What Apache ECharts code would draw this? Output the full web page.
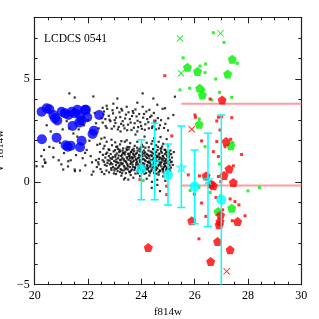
<!DOCTYPE html>
<html><head><meta charset="utf-8">
<script src="https://cdn.jsdelivr.net/npm/echarts@6/dist/echarts.min.js"></script>
<style>html,body{margin:0;padding:0;background:#fff}#c{width:319px;height:319px}</style>
</head><body><div id="c"></div>
<script>
const xTicks = [20, 22, 24, 26, 28, 30];
const yTicks = [-5, 0, 5];
const titleText = 'LCDCS 0541';
const xName = 'f814w';
const yName = 'V\u2212f814w';

const blackStars = [
[21.3,4.3],[21.5,4.1],[22.2,4.15],[23.1,4.05],[24.05,4.3],[24.45,4.05],[22.7,3.7],[23.45,3.65],[24.05,3.65],[23.85,3.85],[24.6,3.75],[22.95,3.8],[21.05,3.5],[23.7,3.35],[24.3,3.5],[22.55,3.6],[24.8,3.55],[23.25,3.55],
[20.45,2.75],[20.6,2.45],[20.35,1.55],[20.55,1.7],[20.7,1.2],[20.4,0.95],[20.9,1.05],[21.0,0.85],[21.1,1.4],[21.05,2.55],[21.2,2.95],[21.45,2.35],[21.55,1.3],[21.5,0.6],[21.8,1.15],[21.9,0.8],[21.95,1.55],[22.05,2.0],[22.1,1.25],[22.15,0.95],[22.3,2.85],[22.35,1.8],[22.4,0.85],[22.45,1.45],[22.5,2.1],[22.5,3.1],[20.8,2.9],[21.3,2.6],[21.65,2.55],[21.85,2.75],[22.0,3.0],[22.25,3.35],[22.4,2.6],[20.25,1.25],[20.3,0.75],[21.35,1.05],[21.7,0.55],[22.2,0.5],[21.25,0.75],[20.95,1.9],[21.6,2.2],[22.3,1.05],
[20.36,1.08],[20.39,0.92],[20.07,0.76],[20.7,1.65],[21.07,0.6],[21.51,0.52],[21.26,1.0],[21.89,1.41],[22.14,0.35],
[22.6,3.42],[22.78,3.21],[22.92,3.48],[23.05,3.12],[23.18,3.38],[23.3,2.95],[23.42,3.27],[23.57,3.05],[23.68,3.44],[23.82,3.18],[23.96,2.9],[24.1,3.3],[24.22,3.05],[24.38,3.22],[24.5,2.85],[24.62,3.1],[22.55,2.88],[22.7,2.62],[22.84,2.95],[22.98,2.7],[23.12,2.55],[23.24,2.82],[23.37,2.6],[23.5,2.78],[23.63,2.52],[23.75,2.85],[23.88,2.66],[24.02,2.58],[24.15,2.8],[24.28,2.6],[24.42,2.7],[24.55,2.55],[24.7,2.75],[24.85,2.62],[23.0,3.0],[22.65,3.05],
[22.58,3.28],[22.66,2.71],[22.72,3.55],[22.81,3.02],[22.89,2.58],[22.94,3.33],[23.03,2.86],[23.09,3.6],[23.15,2.67],[23.21,3.15],[23.28,3.47],[23.33,2.74],[23.39,3.08],[23.47,2.51],[23.52,3.38],[23.6,2.88],[23.65,3.2],[23.72,2.63],[23.78,3.52],[23.86,2.97],[23.92,3.3],[23.99,2.72],[24.07,3.12],[24.13,2.53],[24.19,3.42],[24.26,2.9],[24.33,3.15],[24.4,2.62],[24.47,3.35],[24.53,2.97],[24.66,2.6],[24.74,3.0],[24.9,2.82],[25.0,2.5],
[22.62,2.15],[22.88,2.05],[23.22,2.45],[23.45,2.02],[23.78,2.3],[24.12,2.2],[24.48,2.12],[24.72,2.18],[24.95,2.08],[23.85,2.45],
[22.45,1.85],[22.58,1.62],[22.7,1.95],[22.8,1.55],[22.9,1.78],[23.02,1.92],[23.12,1.6],[23.2,1.82],[23.3,1.52],[23.38,1.95],[23.48,1.7],[23.58,1.88],[23.66,1.55],[23.75,1.75],[23.85,1.95],[23.93,1.6],[24.02,1.8],[24.1,1.52],[24.2,1.9],[24.28,1.68],[24.38,1.85],[24.46,1.58],[24.55,1.78],[24.65,1.95],[24.72,1.62],[24.82,1.85],[24.9,1.55],[25.0,1.75],[23.06,1.7],[23.52,1.58],[23.98,1.68],[24.42,1.98],[24.78,1.72],[23.25,1.98],[22.62,1.75],
[22.72,1.42],[22.85,1.35],[22.96,1.48],[23.08,1.38],[23.17,1.45],[23.28,1.32],[23.4,1.46],[23.5,1.36],[23.61,1.44],[23.72,1.3],[23.83,1.41],[23.94,1.48],[24.03,1.34],[24.14,1.43],[24.24,1.31],[24.35,1.47],[24.45,1.37],[24.56,1.45],[24.66,1.33],[24.77,1.42],[24.88,1.36],[24.98,1.46],
[22.65,1.18],[22.78,1.25],[22.9,1.12],[23.02,1.22],[23.13,1.15],[23.24,1.26],[23.34,1.1],[23.45,1.2],[23.56,1.27],[23.66,1.13],[23.77,1.23],[23.88,1.16],[23.98,1.27],[24.08,1.11],[24.19,1.21],[24.3,1.14],[24.4,1.25],[24.5,1.12],[24.61,1.22],[24.71,1.15],[24.82,1.26],[24.92,1.1],[25.03,1.2],
[22.6,0.98],[22.74,1.05],[22.86,0.92],[22.98,1.02],[23.09,0.95],[23.2,1.06],[23.3,0.9],[23.41,1.0],[23.52,1.07],[23.62,0.93],[23.73,1.03],[23.84,0.96],[23.94,1.06],[24.05,0.91],[24.16,1.01],[24.26,0.94],[24.37,1.05],[24.47,0.92],[24.58,1.02],[24.68,0.95],[24.79,1.06],[24.89,0.9],[25.0,1.0],
[22.7,0.78],[22.82,0.85],[22.94,0.72],[23.05,0.82],[23.16,0.75],[23.27,0.86],[23.37,0.7],[23.48,0.8],[23.59,0.87],[23.69,0.73],[23.8,0.83],[23.9,0.76],[24.01,0.86],[24.12,0.71],[24.22,0.81],[24.33,0.74],[24.43,0.85],[24.54,0.72],[24.64,0.82],[24.75,0.75],[24.85,0.86],[24.96,0.7],[25.06,0.8],
[22.88,0.58],[23.0,0.65],[23.11,0.52],[23.22,0.62],[23.33,0.55],[23.44,0.66],[23.54,0.5],[23.65,0.6],[23.76,0.67],[23.86,0.53],[23.97,0.63],[24.08,0.56],[24.18,0.66],[24.29,0.51],[24.39,0.61],[24.5,0.54],[24.6,0.65],[24.71,0.52],[24.81,0.62],[24.92,0.55],[25.02,0.64],
[23.05,0.38],[23.25,0.3],[23.42,0.42],[23.6,0.33],[23.78,0.4],[23.95,0.28],[24.12,0.39],[24.3,0.31],[24.48,0.43],[24.65,0.35],[24.82,0.27],[24.98,0.4],[23.7,0.2],[24.2,0.15],[24.6,0.1],[24.9,0.05],[23.35,0.12],[24.4,0.0],
[23.03,1.3],[23.25,1.08],[23.47,0.88],[23.69,1.37],[23.91,0.68],[24.13,1.28],[24.35,0.83],[24.57,1.18],[24.79,0.63],[24.95,1.32],[23.14,0.92],[23.36,1.4],[23.58,0.72],[23.8,1.1],[24.02,1.45],[24.24,0.6],[24.46,1.03],[24.68,1.38],[24.9,0.78],[23.58,1.15],[24.25,0.97],[24.73,0.9],[23.88,0.85],[24.55,0.58],[23.2,0.48],[24.85,1.15],[25.1,0.95],[25.12,1.35],[25.08,0.55],
[22.33,0.72],[22.41,1.12],[22.52,0.48],[22.56,1.31],[22.63,0.83],[22.69,0.55],[22.77,1.58],[22.81,1.03],[22.87,0.67],[22.93,1.21],[22.97,0.41],[23.01,1.54],[23.04,0.97],[23.07,0.63],[23.1,1.72],[23.15,1.28],[23.19,0.81],[23.21,1.49],[23.26,0.57],[23.29,1.17],[23.32,1.63],[23.35,0.78],[23.38,1.33],[23.43,0.95],[23.46,1.55],[23.49,0.61],[23.53,1.24],[23.55,1.69],[23.57,0.46],[23.6,1.02],[23.63,1.47],[23.67,0.84],[23.7,1.18],[23.71,1.61],[23.74,0.57],[23.79,1.36],[23.81,0.91],[23.86,1.52],[23.89,0.64],[23.92,1.19],[23.96,0.79],[23.99,1.57],[24.04,1.09],[24.06,0.47],[24.09,1.39],[24.11,0.88],[24.15,1.66],[24.17,0.62],[24.21,1.16],[24.23,0.77],[24.27,1.52],[24.31,1.01],[24.33,0.45],[24.36,1.29],[24.41,0.73],[24.44,1.6],[24.47,1.16],[24.49,0.68],[24.52,1.42],[24.53,0.89],[24.57,0.4],[24.59,1.27],[24.62,1.7],[24.63,0.78],[24.67,1.08],[24.69,0.56],[24.74,1.49],[24.76,0.97],[24.8,1.24],[24.83,0.46],[24.84,0.71],[24.87,1.56],[24.91,1.02],[24.94,0.63],[24.97,1.24],[25.01,0.87],[25.04,1.41],[25.07,1.07],[25.11,0.69],[25.15,1.18],[25.18,0.82],[25.22,1.45],
[22.38,0.95],[22.47,0.62],[22.55,1.05],[22.61,0.38],[22.67,1.36],[22.73,0.92],[22.79,0.46],[22.84,1.15],[22.91,0.86],[22.99,0.55],[23.06,1.09],[23.12,0.69],[23.18,1.56],[23.23,0.93],[23.28,0.42],[23.31,1.41],[23.36,1.03],[23.4,0.61],[23.44,1.62],[23.47,1.14],[23.51,0.75],[23.56,1.37],[23.61,0.54],[23.64,1.21],[23.68,0.98],[23.73,1.49],[23.77,0.71],[23.82,1.07],[23.84,1.66],[23.87,0.42],[23.91,1.31],[23.95,0.97],[24.0,0.58],[24.04,1.24],[24.07,1.71],[24.1,0.79],[24.14,1.05],[24.18,0.43],[24.2,1.36],[24.26,0.67],[24.29,1.26],[24.32,0.92],[24.37,0.53],[24.4,1.43],[24.43,1.08],[24.48,0.79],[24.51,1.3],[24.54,1.04],[24.58,0.69],[24.61,1.55],[24.65,0.47],[24.68,1.2],[24.7,0.84],[24.75,1.62],[24.78,1.13],[24.81,0.56],[24.86,1.0],[24.88,0.75],[24.93,1.44],[24.96,0.92],[25.0,0.6],[25.05,1.3],[25.09,1.52],[25.14,0.98],
[23.39,0.19],[23.51,0.11],[24.7,-0.45],[24.39,-0.29],[24.6,-0.15],[24.89,3.58],[25.26,4.14],[25.01,3.09],[25.2,3.25]
];

const blueDots = [
[20.26,3.41],[20.45,3.58],[20.55,3.53],[20.7,3.25],[20.76,3.09],[20.85,2.98],[21.01,3.41],[21.14,3.33],[21.26,3.25],[21.39,3.41],[21.51,3.33],[21.6,3.5],[21.7,3.25],[21.76,2.98],[21.92,3.5],[21.97,3.14],[22.42,3.25],[21.42,2.72],[21.67,2.88],[22.22,2.49],[22.17,2.33],[20.27,2.07],[20.82,2.15],[21.16,1.78],[21.24,1.71],[21.35,1.76],[21.76,2.0],[21.7,1.68],[21.89,3.5]
];

const cyanFilled = [[24.0,0.62],[25.0,0.34],[26.0,-0.23],[27.0,-0.87]];
const cyanOpen = [[24.5,0.97],[25.5,0.71],[26.5,0.1]];
const cyanBars = [[24.0,-0.87,2.05],[24.5,-0.87,2.85],[25.0,-1.12,1.84],[25.5,-1.25,2.72],[26.0,-2.04,1.55],[26.5,-2.17,2.36],[27.0,-5.5,3.25]];

const greenBig = [[25.73,5.57],[26.11,5.37],[27.41,5.96],[27.24,5.24],[26.19,4.55],[26.29,4.22],[26.17,2.8],[27.36,1.75],[26.88,-1.44],[27.39,-1.28]];
const greenCross = [[25.45,6.97],[26.97,7.22],[25.49,5.28]];
const greenSmall = [[26.7,7.25],[27.1,6.78],[25.57,6.03],[26.2,5.63],[26.41,5.73],[26.39,5.31],[27.6,5.76],[26.79,5.0],[25.45,4.47],[25.81,4.55],[26.35,4.47],[26.93,4.35],[26.64,3.98],[27.39,4.11],[26.17,3.06],[26.39,1.71],[27.43,1.91],[26.93,0.87],[26.58,-0.52],[25.83,-0.42],[28.0,-0.44],[28.43,-0.28],[26.98,-0.68],[26.16,-0.26],[25.01,1.33],[24.07,0.06]];

const redBig = [[27.03,3.98],[27.18,1.96],[27.29,0.62],[27.1,0.31],[26.43,0.29],[26.7,-0.19],[26.62,-0.1],[27.45,-0.03],[25.89,-1.89],[26.95,-1.93],[26.92,-2.09],[26.97,-1.62],[27.61,-1.93],[26.86,-2.9],[27.33,-3.3],[26.6,-3.87],[24.26,-3.19]];
const redCross = [[25.89,2.56],[27.2,-4.35]];
const redSmall = [[24.88,5.16],[26.58,4.03],[26.01,3.25],[26.03,3.14],[26.89,3.14],[27.01,3.17],[27.39,3.12],[26.83,2.96],[26.95,2.52],[25.14,2.23],[26.26,1.99],[26.83,1.96],[27.35,2.07],[26.7,1.47],[26.89,1.23],[27.76,1.33],[27.14,1.71],[24.49,2.96],[27.45,0.78],[25.76,0.34],[26.18,0.29],[26.89,0.26],[26.98,0.01],[25.99,-0.6],[26.26,-1.03],[26.8,-0.76],[27.33,-0.83],[27.51,-0.96],[27.66,-1.12],[27.89,-1.65],[27.41,-1.89],[26.42,-1.68],[26.16,-2.77],[27.05,-1.36],[23.95,0.11],[24.95,-0.21],[24.95,-0.62]];

const pinkLines = [[25.5,30,3.8],[25.5,30,-0.18]];

const PENT = 'path://M0,-1L0.951,-0.309L0.588,0.809L-0.588,0.809L-0.951,-0.309Z';
const XSYM = 'path://M0,1L1,0L5,4L9,0L10,1L6,5L10,9L9,10L5,6L1,10L0,9L4,5Z';
const STAR = 'path://M0,-10L2.35,-3.24L9.51,-3.09L3.8,1.24L5.88,8.09L0,4L-5.88,8.09L-3.8,1.24L-9.51,-3.09L-2.35,-3.24Z';
const FONT = 'Liberation Serif';

const chart = echarts.init(document.getElementById('c'), null, {renderer:'canvas'});

function xAx(pos, major, labels){
  return {type:'value', position:pos, min:20, max:30, interval: major?2:0.5,
    axisLine:{show:major, onZero:false, lineStyle:{color:'#222', width:1.2}},
    axisTick:{show:true, inside:true, length: major?6:3, lineStyle:{color:'#222', width:1}},
    axisLabel:{show:labels, margin:5, color:'#000', fontFamily:FONT, fontSize:12},
    splitLine:{show:false},
    name: labels? xName : '', nameLocation:'middle', nameGap:15,
    nameTextStyle:{color:'#000', fontFamily:FONT, fontSize:11}};
}
function yAx(pos, major, labels){
  return {type:'value', position:pos, min:-5, max:8, interval: major?5:1,
    axisLine:{show:major, onZero:false, lineStyle:{color:'#222', width:1.2}},
    axisTick:{show:true, inside:true, length: major?6:3, lineStyle:{color:'#222', width:1}},
    axisLabel:{show:labels, margin:5, color:'#000', fontFamily:FONT, fontSize:12,
      formatter: v => yTicks.indexOf(v) >= 0 ? (v<0 ? '\u2212'+Math.abs(v) : String(v)) : ''},
    splitLine:{show:false},
    name: labels? yName : '', nameLocation:'middle', nameGap:22, nameRotate:90,
    nameTextStyle:{color:'#000', fontFamily:FONT, fontSize:11}};
}

const lineSeries = pinkLines.map(l => ({type:'line', data:[[l[0],l[2]],[l[1],l[2]]], symbol:'none',
  lineStyle:{color:'#ff9c9c', width:2}, silent:true, z:1, animation:false}));

function sc(data, symbol, size, color, z, extra){
  return Object.assign({type:'scatter', data:data, symbol:symbol, symbolSize:size,
    itemStyle:{color:color}, z:z, animation:false, silent:true}, extra||{});
}

chart.setOption({
  animation:false,
  grid:{left:34.7, right:17.7, top:17.3, bottom:34.3, containLabel:false, outerBoundsMode:'none'},
  title:{text:titleText, left:39, top:28, textStyle:{fontFamily:FONT, fontSize:11.5, fontWeight:'normal', color:'#000'}},
  xAxis:[xAx('bottom',true,true), xAx('bottom',false,false), xAx('top',true,false), xAx('top',false,false)],
  yAxis:[yAx('left',true,true), yAx('left',false,false), yAx('right',true,false), yAx('right',false,false)],
  series:[
    ...lineSeries,
    sc(blackStars,'rect',2.2,'#000',2),
    sc(blueDots,'circle',10,'#0000ff',3),
    sc(greenSmall,'rect',3,'#00ee00',4),
    sc(greenCross,XSYM,7,'#00ee00',4),
    sc(greenBig,PENT,9,'#00ee00',4),
    sc(redSmall,'rect',3,'#ff0000',5),
    sc(redCross,XSYM,7,'#ff0000',5),
    sc(redBig,PENT,9,'#ff0000',5),
    {type:'custom', data:cyanBars, clip:true, z:6, silent:true, animation:false,
      renderItem:function(params, api){
        const x=api.value(0), lo=api.value(1), hi=api.value(2);
        const a=api.coord([x,lo]), b=api.coord([x,hi]);
        const w=4, st={stroke:'#00ffff', lineWidth:1.5};
        return {type:'group', children:[
          {type:'line', shape:{x1:a[0],y1:a[1],x2:b[0],y2:b[1]}, style:st},
          {type:'line', shape:{x1:a[0]-w,y1:a[1],x2:a[0]+w,y2:a[1]}, style:st},
          {type:'line', shape:{x1:b[0]-w,y1:b[1],x2:b[0]+w,y2:b[1]}, style:st}
        ]};
      }},
    sc(cyanFilled,'circle',10,'#00ffff',7),
    sc(cyanOpen,STAR,9,'none',7,{itemStyle:{color:'rgba(0,0,0,0)', borderColor:'#00ffff', borderWidth:1.2}})
  ]
});
</script></body></html>
